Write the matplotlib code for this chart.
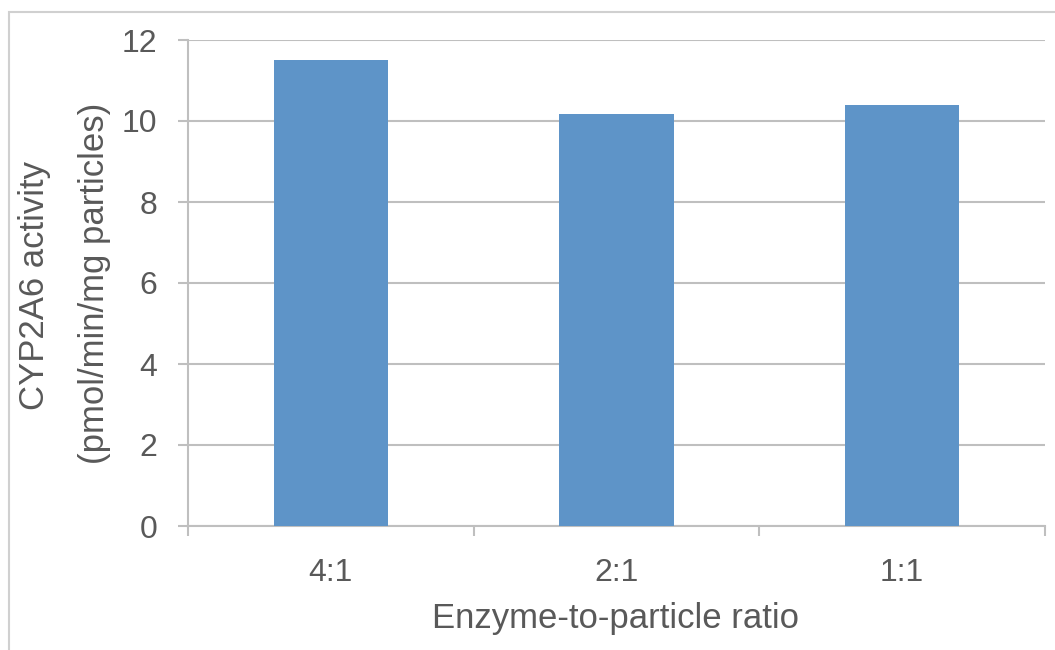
import matplotlib.pyplot as plt
from matplotlib.patches import Rectangle

ratios = ['4:1', '2:1', '1:1']
activity = [11.5, 10.17, 10.4]
yticks = [0, 2, 4, 6, 8, 10, 12]

plt.rcParams['font.family'] = ['Liberation Sans', 'DejaVu Sans']
text_color = '#595959'
grid_color = '#BFBFBF'
bar_color = '#5E94C8'

fig = plt.figure(figsize=(10.55, 6.5), dpi=100)
ax = fig.add_axes([188 / 1055, 1 - 526 / 650, (1045 - 188) / 1055, (526 - 40) / 650])

x = list(range(len(ratios)))
ax.bar(x, activity, width=0.4, color=bar_color, zorder=3)

ax.set_xlim(-0.5, len(ratios) - 0.5)
ax.set_ylim(0, 12)
ax.set_yticks(yticks)
ax.set_yticklabels([str(t) for t in yticks])
ax.yaxis.grid(True, color=grid_color, linewidth=1.5, zorder=0)

# category labels in the middle, tick marks on the boundaries
ax.set_xticks(x)
ax.set_xticklabels(ratios)
ax.set_xticks([i - 0.5 for i in range(len(ratios) + 1)], minor=True)
ax.tick_params(axis='x', which='major', length=0, pad=23, labelsize=23, labelcolor=text_color)
ax.tick_params(axis='x', which='minor', length=7, width=1.5, color=grid_color)
ax.tick_params(axis='y', length=7, width=1.5, color=grid_color, pad=15,
               labelsize=23, labelcolor=text_color)

for side in ['top', 'right']:
    ax.spines[side].set_visible(False)
for side in ['left', 'bottom']:
    ax.spines[side].set_color(grid_color)
    ax.spines[side].set_linewidth(1.5)

# two-line y title, placed line by line
fig.text(35 / 1055, 1 - 285 / 650, 'CYP2A6 activity', rotation=90,
         ha='center', va='center', fontsize=25, color=text_color)
fig.text(95 / 1055, 1 - 283 / 650, '(pmol/min/mg particles)', rotation=90,
         ha='center', va='center', fontsize=25, color=text_color)
fig.text((433 + 798) / 2 / 1055, 1 - 628 / 650, 'Enzyme-to-particle ratio',
         ha='center', va='baseline', fontsize=25, color=text_color)

# chart area outline
fig.patches.append(Rectangle((9 / 1055, -0.1), 1.2, 1 - 12 / 650 + 0.1,
                             transform=fig.transFigure, fill=False,
                             edgecolor='#D0D0D0', linewidth=1.5))

fig.savefig('out.png', dpi=100)
